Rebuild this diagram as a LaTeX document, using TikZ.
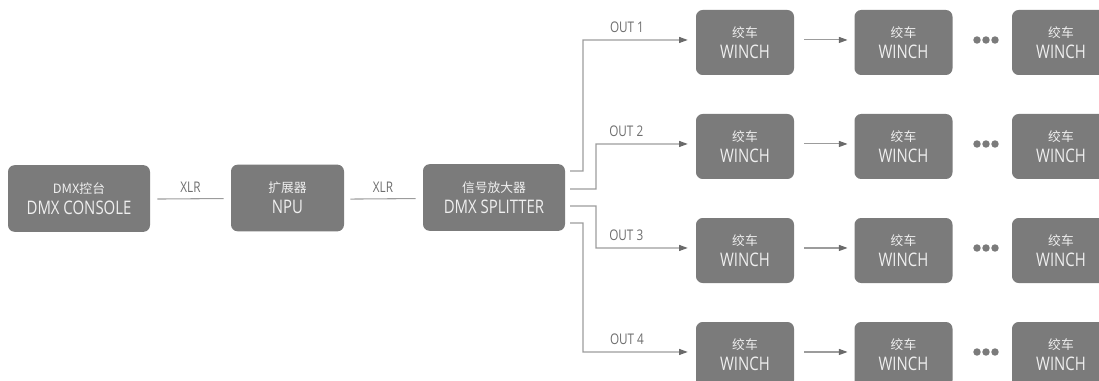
\documentclass[tikz,border=0pt]{standalone}
\usepackage{fontspec}
\setmainfont{Open Sans}[FakeStretch=0.8]
\newfontfamily\cjk{Noto Sans CJK SC}
\usetikzlibrary{arrows.meta}
\definecolor{boxgray}{HTML}{7B7B7B}
\definecolor{linegray}{HTML}{9C9C9C}
\definecolor{labgray}{HTML}{6E6E6E}
\definecolor{tipgray}{HTML}{6A6A6A}
\definecolor{boxtext}{HTML}{EFEFEF}
\newcommand{\twolines}[2]{{\fontsize{9.6}{11}\cjk #1}\\[4pt]{\fontsize{14}{15}\selectfont #2}}
\tikzset{
  device/.style={fill=boxgray, draw=none, rounded corners=5pt, text=boxtext,
    align=center, inner sep=0pt, minimum height=50pt},
  bigbox/.style={device, minimum width=106.5pt},
  npubox/.style={device, minimum width=84.75pt},
  winchbox/.style={device, minimum width=73.5pt, minimum height=48.75pt},
  wire/.style={draw=linegray, line width=0.8pt},
  arrowwire/.style={wire, -{Triangle[length=6.5pt,width=4.5pt,fill=tipgray,color=tipgray]}},
  lab/.style={text=labgray, font=\fontsize{11}{12}\selectfont, inner sep=1pt},
  dot/.style={circle, fill=boxgray, minimum size=5.6pt, inner sep=0pt}
}
\begin{document}
\begin{tikzpicture}[x=0.75pt, y=-0.75pt]
\useasboundingbox (0,0) rectangle (1099,381);
\clip (0,0) rectangle (1099,381);

\node[bigbox] (console) at (79,198.5) {\twolines{DMX控台}{DMX CONSOLE}};
\node[npubox] (npu) at (287.5,198) {\twolines{扩展器}{NPU}};
\node[bigbox] (split) at (494,197.5) {\twolines{信号放大器}{DMX SPLITTER}};

\draw[wire] ([xshift=5.25pt,yshift=-0.4pt]console.east) -- node[lab, above=3.5pt] (xlr1) {XLR} ([xshift=-5.25pt,yshift=-0.4pt]npu.west);
\draw[wire] ([xshift=4.5pt,yshift=-0.8pt]npu.east) -- node[lab, above=3.5pt] (xlr2) {XLR} ([xshift=-5.25pt,yshift=-0.8pt]split.west);

\foreach \r/\y in {1/42.5, 2/146.5, 3/250.5, 4/354.5} {
  \node[winchbox] (w\r a) at (745,\y) {\twolines{绞车}{WINCH}};
  \node[winchbox] (w\r b) at (903.5,\y) {\twolines{绞车}{WINCH}};
  \node[winchbox] (w\r c) at (1061,\y) {\twolines{绞车}{WINCH}};
  \draw[arrowwire] ([xshift=7.5pt,yshift=1.9pt]w\r a.east) -- ([xshift=-5pt,yshift=1.9pt]w\r b.west);
  \node[dot] (d\r a) at (977,\y-2.5) {};
  \node[dot] (d\r b) at (986,\y-2.5) {};
  \node[dot] (d\r c) at (995,\y-2.5) {};
}

% splitter outputs
\coordinate (s1) at (570,171);
\coordinate (s2) at (570,189);
\coordinate (s3) at (570,206);
\coordinate (s4) at (570,223);

\draw[arrowwire] (s1) -| (583,40) -- node[lab, pos=0.42, above=4pt] (o1) {OUT 1} ([xshift=-6pt,yshift=1.9pt]w1a.west);
\draw[arrowwire] (s2) -| (596,144) -- node[lab, pos=0.33, above=4pt] (o2) {OUT 2} ([xshift=-6pt,yshift=1.9pt]w2a.west);
\draw[arrowwire] (s3) -| (596,248) -- node[lab, pos=0.33, above=4pt] (o3) {OUT 3} ([xshift=-6pt,yshift=1.9pt]w3a.west);
\draw[arrowwire] (s4) -| (583,352) -- node[lab, pos=0.42, above=4pt] (o4) {OUT 4} ([xshift=-6pt,yshift=1.9pt]w4a.west);
\end{tikzpicture}
\end{document}
